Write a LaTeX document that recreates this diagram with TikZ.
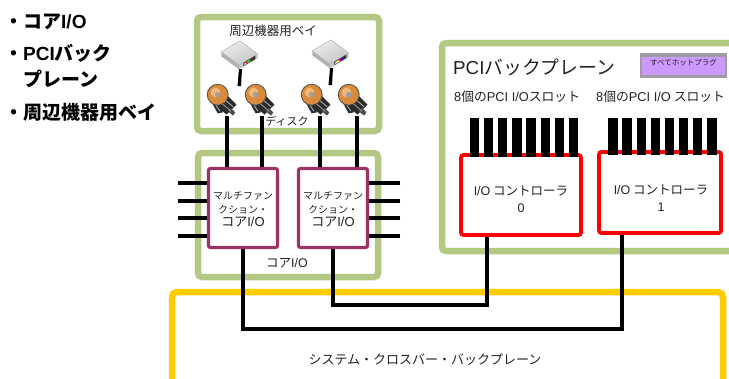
\documentclass[tikz,border=0pt]{standalone}
\usepackage{fontspec}
\setmainfont{Liberation Sans}
\newfontfamily\jp{Noto Sans CJK JP}
\newfontfamily\lsans{Liberation Sans}
\newcommand{\ltn}[1]{{\lsans #1}}
\definecolor{framegreen}{HTML}{B3C983}
\definecolor{frameyellow}{HTML}{FFCC00}
\definecolor{mfpurple}{HTML}{993366}
\definecolor{ctlred}{HTML}{FF0000}
\definecolor{btnpurple}{HTML}{CC99FF}
\definecolor{btngray}{HTML}{A09CA6}
\definecolor{hddorange}{HTML}{D98A3A}
\definecolor{hddlight}{HTML}{F2B877}
\definecolor{hddbody}{HTML}{2B2B2B}
\definecolor{textgray}{HTML}{222222}
\tikzset{
  gframe/.style={draw=framegreen, line width=6.5pt, rounded corners=4pt},
  yframe/.style={draw=frameyellow, line width=6.5pt, rounded corners=5pt},
  mfbox/.style={draw=mfpurple, line width=3.2pt, fill=white, rounded corners=2pt,
    minimum width=69pt, minimum height=79pt, inner sep=0pt},
  ctlbox/.style={draw=ctlred, line width=3.8pt, fill=white, rounded corners=2.5pt,
    inner sep=0pt},
  wire/.style={draw=black, line width=4.2pt},
  wirethin/.style={draw=black, line width=3.4pt},
  slotbar/.style={fill=black},
  lbl/.style={inner sep=0pt, text=textgray},
  hdd/.pic={
    \fill[hddbody] (-10,2) -- (0,-8) -- (14,6) -- (5,15) -- cycle;
    \fill[hddbody] (-9,3) -- (-3,14) -- (2,13) -- (-4,3) -- cycle;
    \fill[black!70] (6,12) -- (11,16) -- (13,13) -- (9,9) -- cycle;
    \draw[gray!70, line width=0.8pt] (0,4) -- (9,12);
    \draw[gray!55, line width=0.8pt] (3,1) -- (11,8);
    \draw[gray!45, line width=0.7pt] (-5,6) -- (-1,12);
    \fill[hddorange] (-3,-3) circle (9.5);
    \fill[hddlight] (-5,-5) circle (4.5);
    \draw[gray!60!black, line width=0.8pt] (-3,-3) circle (9.5);
    \fill[gray!75] (-3,-3) circle (2.6);
  },
  cdrom/.pic={
    % side and front faces below the top face
    \fill[gray!60] (-17,-2) -- (-1,10) -- (-1,14) -- (-17,2) -- cycle;
    \fill[gray!45] (-1,10) -- (16,0) -- (16,4) -- (-1,14) -- cycle;
    % top face
    \shade[left color=gray!15, right color=gray!45, shading angle=30]
      (-17,-2) -- (0,-12) -- (16,0) -- (-1,10) -- cycle;
    \draw[gray!60, line width=0.5pt] (-17,-2) -- (0,-12) -- (16,0) -- (-1,10) -- cycle;
    % tray bezel
    \fill[black!80] (3,8) -- (14,1.5) -- (14,4.5) -- (3,11) -- cycle;
    \fill[white] (4,8.2) -- (9,5.2) -- (9,7) -- (4,10) -- cycle;
  },
  cdstand/.pic={
    \fill[black] (-1,15) -- (2,15) -- (1,32) -- (-2.5,32) -- cycle;
  },
}
\begin{document}
\begin{tikzpicture}[x=1pt,y=-1pt]
\useasboundingbox (0,0) rectangle (729,378);

% ---- frames ----
\draw[yframe] (172,292) rectangle (723,430);
\draw[gframe] (442,43) rectangle (790,251);
\draw[gframe] (197,17) rectangle (379,131);
\draw[gframe] (198,153) rectangle (378,277);

% ---- peripheral bay devices ----
\coordinate (cd1) at (240,54);
\coordinate (cd2) at (331,53);
\pic[scale=1.1] at (cd1) {cdrom};
\pic[scale=1.1] at (cd2) {cdrom};
\pic at (cd1) {cdstand};
\pic at (cd2) {cdstand};
\fill[green!80!black] (249.5,61) circle (1.7);
\fill[red] (247,62.5) circle (1.3);
\fill[magenta] (340,60) circle (1.7);
\fill[blue] (342,59) circle (1.2);
\fill[yellow] (338,61.5) circle (1.0);

\coordinate (dk1) at (221,98);
\coordinate (dk2) at (259,98);
\coordinate (dk3) at (315,98);
\coordinate (dk4) at (352,98);
\foreach \d in {dk1,dk2,dk3,dk4} \pic[scale=1.1] at (\d) {hdd};

\coordinate (dl1) at (227,116);
\coordinate (dl2) at (262,116);
\coordinate (dl3) at (320,116);
\coordinate (dl4) at (357,116);

% ---- core I/O blocks ----
\node[mfbox] (mf1) at (243,208) {};
\node[mfbox] (mf2) at (333,208) {};

% ---- PCI controllers ----
\node[ctlbox, minimum width=120pt, minimum height=80pt] (c0) at (521,195) {};
\node[ctlbox, minimum width=122pt, minimum height=81pt] (c1) at (660,192.5) {};

% slot connectors, eight per controller
\foreach \i in {0,...,7} {
  \fill[slotbar] ({470+14.1*\i},118) rectangle ++(9.2,39);
  \fill[slotbar] ({608.3+14.15*\i},118) rectangle ++(9.2,37);
}

% hot-plug badge
\fill[btngray] (640,53) rectangle (727,78);
\node[fill=btnpurple, minimum width=83pt, minimum height=18pt, inner sep=0pt] (hp) at (683.5,66) {};
\node[lbl, font=\jp\fontsize{7.5}{8}\selectfont] (hptext) at (683.5,62.5) {すべてホットプラグ};

% ---- connectors ----
\foreach \i in {1,2} \draw[wire] (dl\i) -- (dl\i |- mf1.north);
\foreach \i in {3,4} \draw[wire] (dl\i) -- (dl\i |- mf2.north);

\foreach \y [count=\i] in {183,201,218,236} {
  \coordinate (sl\i) at (178,\y);
  \coordinate (sr\i) at (400,\y);
  \draw[wire] (sl\i) -- (sl\i -| mf1.west);
  \draw[wire] (sr\i) -- (sr\i -| mf2.east);
}

\coordinate (c0tap) at (487,305);
\coordinate (c1tap) at (622,329);
\draw[wirethin] (mf2.south) |- (c0tap) -- (c0tap |- c0.south);
\draw[wire] (mf1.south) |- (c1tap) -- (c1tap |- c1.south);

% ---- labels ----
\node[lbl, anchor=west, font=\jp\bfseries\fontsize{19}{22}\selectfont, text=black] (b1) at (4,22) {・コア\ltn{\bfseries I/O}};
\node[lbl, anchor=west, font=\jp\bfseries\fontsize{19}{22}\selectfont, text=black] (b2) at (4,53) {・\ltn{\bfseries PCI}バック};
\node[lbl, anchor=west, font=\jp\bfseries\fontsize{19}{22}\selectfont, text=black] (b3) at (23,79) {プレーン};
\node[lbl, anchor=west, font=\jp\bfseries\fontsize{19}{22}\selectfont, text=black] (b4) at (4,112) {・周辺機器用ベイ};

\node[lbl, font=\jp\fontsize{12.5}{14}\selectfont] (baytitle) at (273,31) {周辺機器用ベイ};
\node[lbl, font=\jp\fontsize{11}{13}\selectfont] (disklbl) at (287,121) {ディスク};

\foreach \m in {mf1,mf2}
  \node[lbl, align=center, font=\jp\fontsize{10}{14}\selectfont] (\m t) at ([yshift=-1pt]\m.center)
    {マルチファン\\クション・\\[-1pt]{\fontsize{13}{15}\selectfont コア\ltn{I/O}}};

\node[lbl, font=\jp\fontsize{12.5}{14}\selectfont] (corelbl) at (287,263) {コア\ltn{I/O}};

\node[lbl, anchor=west, font=\jp\fontsize{18.8}{21}\selectfont] (pcititle) at (453,67) {\ltn{PCI}バックプレーン};
\node[lbl, anchor=west, font=\jp\fontsize{12.8}{14}\selectfont] (slots0) at (454,97) {\ltn{8}個の\ltn{PCI I/O}スロット};
\node[lbl, anchor=west, font=\jp\fontsize{12.8}{14}\selectfont] (slots1) at (596,97) {\ltn{8}個の\ltn{PCI I/O} スロット};

\node[lbl, align=center, font=\jp\fontsize{12.5}{17}\selectfont] (c0t) at (521,199) {\ltn{I/O} コントローラ\\\ltn{0}};
\node[lbl, align=center, font=\jp\fontsize{12.5}{17}\selectfont] (c1t) at (661,198) {\ltn{I/O} コントローラ\\\ltn{1}};

\node[lbl, font=\jp\fontsize{13}{15}\selectfont] (xbar) at (425,360) {システム・クロスバー・バックプレーン};
\end{tikzpicture}
\end{document}
